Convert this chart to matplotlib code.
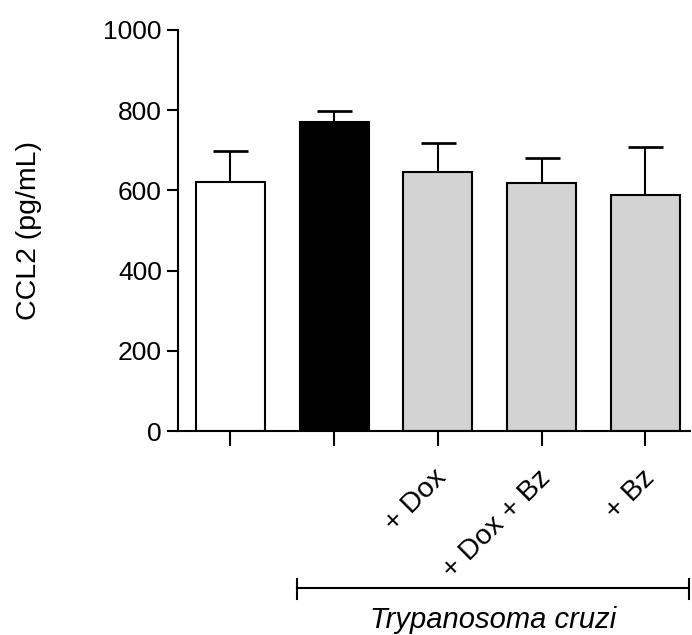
import matplotlib
matplotlib.use("Agg")
import matplotlib.pyplot as plt

plt.rcParams['font.family'] = ['Liberation Sans', 'DejaVu Sans']

# Data
groups = ["", "", "+ Dox", "+ Dox + Bz", "+ Bz"]
means = [621, 770, 647, 619, 588]
sem_up = [77, 27, 70, 61, 119]
fill_colors = ["white", "black", "#d3d3d3", "#d3d3d3", "#d3d3d3"]
y_ticks = [0, 200, 400, 600, 800, 1000]
y_label = "CCL2 (pg/mL)"
group_label = "Trypanosoma cruzi"

fig = plt.figure(figsize=(6.92, 6.35), dpi=100)
ax = fig.add_axes([0.257, 0.321, 0.74, 0.632])

x = list(range(len(means)))
lw = 1.5
ax.bar(x, means, width=0.665, color=fill_colors, edgecolor="black", linewidth=lw, zorder=2)
ax.errorbar(x, means, yerr=[[0] * len(means), sem_up], fmt="none", ecolor="black",
            elinewidth=lw, capsize=12.6, capthick=lw * 1.3, zorder=1)

ax.set_xlim(-0.505, 4.43)
ax.set_ylim(0, 1000)
ax.set_yticks(y_ticks)
ax.set_yticklabels([str(v) for v in y_ticks], fontsize=19)
ax.set_xticks(x)
ax.set_xticklabels([])

# Rotated group labels, right end tucked just below each tick
for xi, lab in zip(x, groups):
    if lab:
        ax.annotate(lab, xy=(xi, 0), xycoords=("data", "axes fraction"),
                    xytext=(5, -43), textcoords="offset pixels",
                    ha="right", va="center", rotation=45, rotation_mode="anchor",
                    fontsize=20.5, annotation_clip=False)

ax.tick_params(axis="both", direction="out", width=lw, length=8, color="black")
ax.tick_params(axis="x", length=11, pad=4)
for side in ("top", "right"):
    ax.spines[side].set_visible(False)
for side in ("left", "bottom"):
    ax.spines[side].set_linewidth(lw)

ax.set_ylabel(y_label, fontsize=20.5, labelpad=44)

# Bracket under the infected groups
y_br = 588.3
x0_px, x1_px = 297.3, 689.3
H = 635
fig.add_artist(plt.Line2D([x0_px / 692, x1_px / 692], [1 - y_br / H] * 2, color="black", lw=lw))
for xp in (x0_px, x1_px):
    fig.add_artist(plt.Line2D([xp / 692] * 2, [1 - 579 / H, 1 - 599.3 / H], color="black", lw=lw))
fig.text((x0_px + x1_px) / 2 / 692, 1 - 620 / H, group_label, fontsize=21,
         style="italic", ha="center", va="center")

fig.savefig("out.png", dpi=100)
